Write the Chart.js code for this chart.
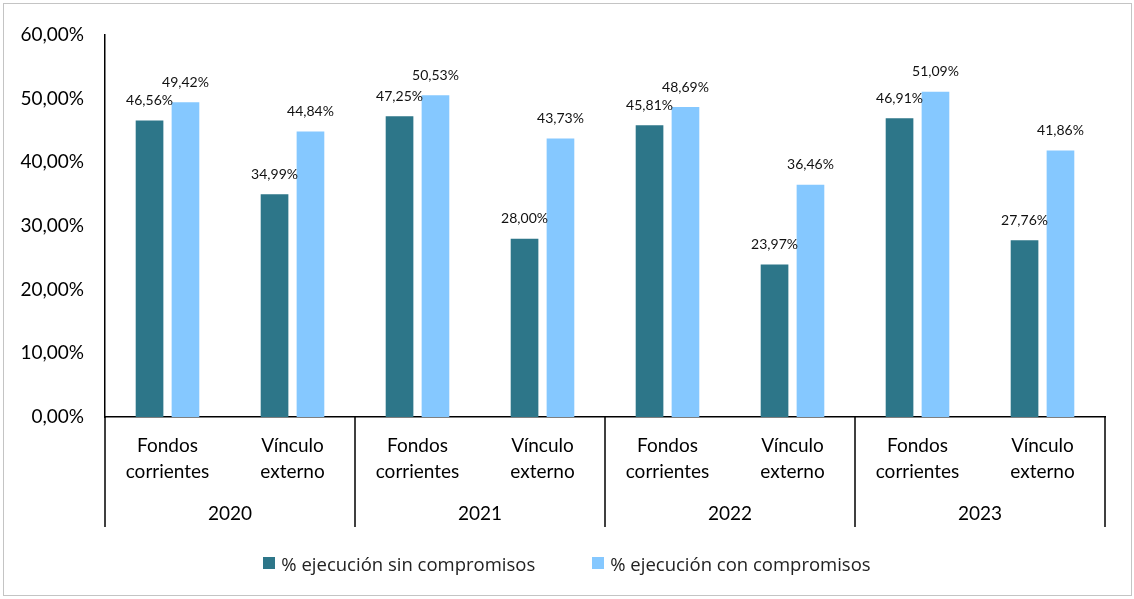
<!DOCTYPE html>
<html>
<head>
<meta charset="utf-8">
<script src="https://cdn.jsdelivr.net/npm/chart.js@4"></script>
<style>
  html, body { margin: 0; padding: 0; background: #fff; }
  #wrap { position: relative; width: 1134px; height: 599px; }
  #frame { position: absolute; left: 3px; top: 3px; width: 1129px; height: 593px; border: 1px solid #c4c4c4; box-sizing: border-box; pointer-events: none; }
  #chart { position: absolute; left: 0; top: 0; }
  #legend { position: absolute; left: 0; top: 550px; width: 1134px; height: 26px; display: flex; justify-content: center; align-items: center; gap: 57px; font-family: "Open Sans", sans-serif; font-size: 18.5px; color: #222; }
  .item { display: flex; align-items: center; }
  .box { width: 12px; height: 12px; margin-right: 6px; }
</style>
</head>
<body>
<div id="wrap">
  <canvas id="chart" width="1134" height="599"></canvas>
  <div id="legend"></div>
  <div id="frame"></div>
</div>
<script>
const years = ['2020', '2021', '2022', '2023'];
const subCategories = [['Fondos', 'corrientes'], ['Vínculo', 'externo']];
const seriesNames = ['% ejecución sin compromisos', '% ejecución con compromisos'];
const sinCompromisos = [46.56, 34.99, 47.25, 28.00, 45.81, 23.97, 46.91, 27.76];
const conCompromisos = [49.42, 44.84, 50.53, 43.73, 48.69, 36.46, 51.09, 41.86];
const yTicks = [0, 10, 20, 30, 40, 50, 60];
const colors = ['#2d7689', '#85c8ff'];

const labels = [];
years.forEach(() => subCategories.forEach(s => labels.push(s)));

const fmt = v => v.toFixed(2).replace('.', ',') + '%';
const tickFont = { family: 'Lato, "Noto Sans", sans-serif', size: 19 };

// value labels above bars
const valueLabels = {
  id: 'valueLabels',
  afterDatasetsDraw(chart) {
    const ctx = chart.ctx;
    ctx.save();
    ctx.font = '14px Lato, "Noto Sans", sans-serif';
    ctx.fillStyle = '#111';
    ctx.textAlign = 'center';
    ctx.textBaseline = 'middle';
    chart.data.datasets.forEach((ds, i) => {
      chart.getDatasetMeta(i).data.forEach((bar, j) => {
        ctx.fillText(fmt(ds.data[j]), bar.x, bar.y - 20);
      });
    });
    ctx.restore();
  }
};

// year row and group dividers under the x axis
const yearGroups = {
  id: 'yearGroups',
  afterDraw(chart) {
    const x = chart.scales.x, area = chart.chartArea, ctx = chart.ctx;
    const per = subCategories.length;
    ctx.save();
    ctx.strokeStyle = '#000';
    ctx.lineWidth = 1.5;
    for (let g = 0; g <= years.length; g++) {
      let px;
      if (g === 0) px = area.left;
      else if (g === years.length) px = area.right;
      else px = (x.getPixelForValue(g * per - 1) + x.getPixelForValue(g * per)) / 2;
      ctx.beginPath();
      ctx.moveTo(px, area.bottom);
      ctx.lineTo(px, area.bottom + 110);
      ctx.stroke();
    }
    ctx.font = tickFont.size + 'px ' + tickFont.family;
    ctx.fillStyle = '#000';
    ctx.textAlign = 'center';
    ctx.textBaseline = 'middle';
    years.forEach((y, g) => {
      const cx = (x.getPixelForValue(g * per) + x.getPixelForValue(g * per + per - 1)) / 2;
      ctx.fillText(y, cx, area.bottom + 97);
    });
    ctx.restore();
  }
};

const chart = new Chart(document.getElementById('chart').getContext('2d'), {
  type: 'bar',
  data: {
    labels: labels,
    datasets: [
      { label: seriesNames[0], data: sinCompromisos, backgroundColor: colors[0] },
      { label: seriesNames[1], data: conCompromisos, backgroundColor: colors[1] }
    ]
  },
  options: {
    responsive: false,
    animation: false,
    layout: { padding: { left: 0, right: 29, top: 35, bottom: 0 } },
    datasets: { bar: { categoryPercentage: 0.575, barPercentage: 0.77 } },
    scales: {
      x: {
        grid: { display: false, drawTicks: false },
        border: { display: true, color: '#000', width: 1.5 },
        ticks: { color: '#000', font: { ...tickFont, lineHeight: 1.37 }, padding: 16, maxRotation: 0, autoSkip: false },
        afterFit: s => { s.height = 182; }
      },
      y: {
        min: 0, max: 60,
        afterBuildTicks: s => { s.ticks = yTicks.map(v => ({ value: v })); },
        grid: { display: false, drawTicks: false },
        border: { display: true, color: '#000', width: 1.5 },
        ticks: { color: '#000', font: tickFont, padding: 21, callback: v => fmt(v) },
        afterFit: s => { s.width = 105; }
      }
    },
    plugins: { legend: { display: false }, tooltip: { enabled: false } }
  },
  plugins: [valueLabels, yearGroups]
});

// html legend built from the datasets
const legendEl = document.getElementById('legend');
chart.data.datasets.forEach(ds => {
  const item = document.createElement('div');
  item.className = 'item';
  const box = document.createElement('span');
  box.className = 'box';
  box.style.background = ds.backgroundColor;
  const txt = document.createElement('span');
  txt.textContent = ds.label;
  item.appendChild(box);
  item.appendChild(txt);
  legendEl.appendChild(item);
});
</script>
</body>
</html>
